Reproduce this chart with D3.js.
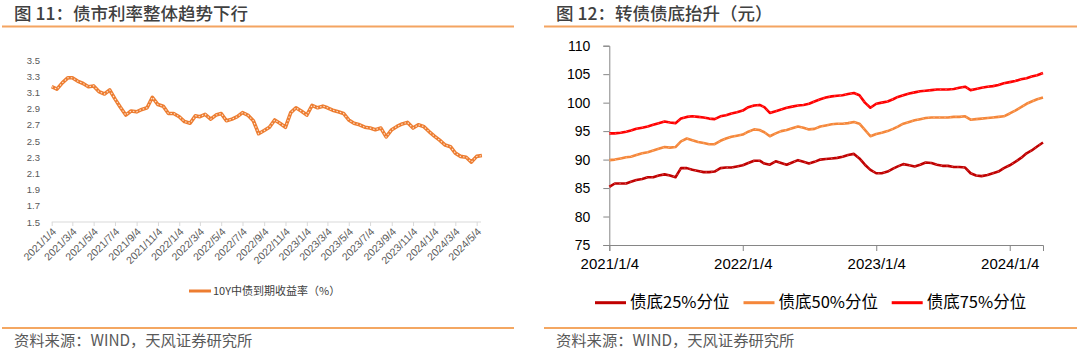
<!DOCTYPE html>
<html>
<head>
<meta charset="utf-8">
<script src="https://cdn.jsdelivr.net/npm/d3@7"></script>
<style>
  body { margin: 0; background: #fff; }
  svg { display: block; }
  text { font-family: "Noto Sans CJK SC", "Liberation Sans", sans-serif; }
</style>
</head>
<body>
<svg id="chart" width="1080" height="353"></svg>
<script>
// half-month sample dates (4th and 19th of each month)
const dates = [
  "2021-01-04","2021-01-19","2021-02-04","2021-02-19","2021-03-04","2021-03-19","2021-04-04","2021-04-19",
  "2021-05-04","2021-05-19","2021-06-04","2021-06-19","2021-07-04","2021-07-19","2021-08-04","2021-08-19",
  "2021-09-04","2021-09-19","2021-10-04","2021-10-19","2021-11-04","2021-11-19","2021-12-04","2021-12-19",
  "2022-01-04","2022-01-19","2022-02-04","2022-02-19","2022-03-04","2022-03-19","2022-04-04","2022-04-19",
  "2022-05-04","2022-05-19","2022-06-04","2022-06-19","2022-07-04","2022-07-19","2022-08-04","2022-08-19",
  "2022-09-04","2022-09-19","2022-10-04","2022-10-19","2022-11-04","2022-11-19","2022-12-04","2022-12-19",
  "2023-01-04","2023-01-19","2023-02-04","2023-02-19","2023-03-04","2023-03-19","2023-04-04","2023-04-19",
  "2023-05-04","2023-05-19","2023-06-04","2023-06-19","2023-07-04","2023-07-19","2023-08-04","2023-08-19",
  "2023-09-04","2023-09-19","2023-10-04","2023-10-19","2023-11-04","2023-11-19","2023-12-04","2023-12-19",
  "2024-01-04","2024-01-19","2024-02-04","2024-02-19","2024-03-04","2024-03-19","2024-04-04","2024-04-19",
  "2024-05-04","2024-05-19"
];

// 图11: 10Y中债到期收益率 (%)
const yield10y = [
  3.17,3.14,3.22,3.28,3.28,3.24,3.21,3.17,3.18,3.11,3.08,3.13,3.02,2.92,2.82,2.87,
  2.86,2.89,2.91,3.04,2.95,2.93,2.84,2.84,
  2.80,2.74,2.72,2.81,2.80,2.83,2.77,2.82,2.84,2.75,2.77,2.80,2.85,2.82,2.75,2.59,
  2.63,2.67,2.76,2.72,2.67,2.85,2.91,2.87,
  2.82,2.94,2.91,2.93,2.91,2.88,2.86,2.84,2.76,2.72,2.70,2.67,2.66,2.64,2.66,2.55,
  2.64,2.68,2.71,2.73,2.66,2.70,2.68,2.62,
  2.56,2.51,2.45,2.43,2.35,2.31,2.30,2.24,2.31,2.32
];

// 图12: 转债债底 (元), ends 2024-04-04
const floor25 = [
  85.2,85.8,85.8,85.8,86.1,86.4,86.6,86.9,86.9,87.2,87.4,87.2,86.9,88.5,88.5,88.2,
  88.0,87.8,87.8,87.9,88.5,88.6,88.6,88.8,
  89.0,89.4,89.8,89.8,89.3,89.1,89.7,89.4,89.1,89.5,89.9,89.6,89.3,89.6,90.0,90.1,
  90.2,90.3,90.5,90.8,91.0,90.2,89.1,88.2,
  87.6,87.6,87.9,88.4,88.8,89.2,89.0,88.8,89.1,89.5,89.4,89.1,88.9,88.9,88.7,88.7,
  88.6,87.6,87.2,87.1,87.3,87.6,87.9,88.5,
  89.0,89.6,90.3,91.1,91.6,92.3,93.0
];
const floor50 = [
  89.9,90.0,90.2,90.4,90.5,90.8,91.1,91.3,91.6,91.9,92.2,92.1,92.2,93.2,93.7,93.4,
  93.1,92.9,92.7,92.7,93.3,93.7,94.0,94.2,
  94.4,94.9,95.3,95.2,94.8,94.1,94.6,95.0,95.2,95.5,95.8,95.6,95.3,95.4,95.8,96.0,
  96.2,96.3,96.3,96.4,96.6,96.3,95.2,94.1,
  94.5,94.7,95.0,95.4,95.8,96.3,96.6,96.9,97.1,97.3,97.4,97.4,97.4,97.4,97.5,97.5,
  97.6,97.0,97.1,97.2,97.3,97.4,97.5,97.6,
  98.1,98.6,99.2,99.8,100.2,100.6,100.9
];
const floor75 = [
  94.6,94.6,94.7,94.9,95.1,95.4,95.6,95.8,96.1,96.4,96.7,96.5,96.4,97.2,97.5,97.6,
  97.5,97.4,97.2,97.1,97.6,97.8,98.1,98.3,
  98.6,99.2,99.5,99.6,99.2,98.2,98.5,98.8,99.1,99.3,99.5,99.6,99.8,100.2,100.6,100.9,
  101.1,101.2,101.3,101.5,101.7,101.3,100.0,99.1,
  99.8,100.0,100.2,100.6,101.0,101.3,101.6,101.8,102.0,102.1,102.2,102.3,102.3,102.3,102.4,102.6,
  102.8,102.2,102.4,102.6,102.8,102.9,103.1,103.4,
  103.6,103.8,104.1,104.3,104.6,104.8,105.2
];

const leftTicks = [
  "2021-01-04","2021-03-04","2021-05-04","2021-07-04","2021-09-04","2021-11-04",
  "2022-01-04","2022-03-04","2022-05-04","2022-07-04","2022-09-04","2022-11-04",
  "2023-01-04","2023-03-04","2023-05-04","2023-07-04","2023-09-04","2023-11-04",
  "2024-01-04","2024-03-04","2024-05-04"
];
const rightTicks = ["2021-01-04","2022-01-04","2023-01-04","2024-01-04"];

const titles = ["图 11：债市利率整体趋势下行", "图 12：转债债底抬升（元）"];
const source = "资料来源：WIND，天风证券研究所";
const legendLeft = "10Y中债到期收益率（%）";
const seriesNames = ["债底25%分位", "债底50%分位", "债底75%分位"];
const seriesColors = ["#C00000", "#F5873A", "#FF0000"];

const parse = d3.timeParse("%Y-%m-%d");
const fmt = d3.timeFormat("%Y/%-m/%-d");
const svg = d3.select("#chart");

/* header & footer for both panels */
const panels = [{ x0: 2, x1: 514, tx: 14 }, { x0: 544, x1: 1077, tx: 556 }];
panels.forEach((p, i) => {
  svg.append("text").attr("x", p.tx).attr("y", 19.5)
    .style("font-size", "17.5px").style("font-weight", 500).style("fill", "#404040")
    .text(titles[i]);
  svg.append("line").attr("x1", p.x0).attr("x2", p.x1).attr("y1", 26.5).attr("y2", 26.5)
    .style("stroke", "#F4A461").style("stroke-width", 2);
  svg.append("line").attr("x1", p.x0).attr("x2", p.x1).attr("y1", 328).attr("y2", 328)
    .style("stroke", "#F08A2E").style("stroke-width", 1.5);
  svg.append("text").attr("x", p.tx).attr("y", 346)
    .style("font-size", "15.3px").style("fill", "#595959")
    .text(source);
});

/* ---------- left chart ---------- */
const xL = d3.scaleTime()
  .domain([parse("2021-01-04"), parse("2024-05-19")])
  .range([51.7, 481.9]);
const yL = d3.scaleLinear().domain([1.5, 3.5]).range([222, 60]);

const gL = svg.append("g");
const xAxisL = d3.axisBottom(xL)
  .tickValues(leftTicks.map(parse))
  .tickFormat(fmt)
  .tickSize(4);
gL.append("g").attr("transform", "translate(0,222)").call(xAxisL)
  .call(g => g.select(".domain").attr("d", "M51.7,0H481").style("stroke", "#D9D9D9"))
  .call(g => g.selectAll(".tick line").style("stroke", "#D9D9D9"))
  .call(g => g.selectAll(".tick text")
    .attr("transform", "translate(2,2) rotate(-45)")
    .attr("x", -4).attr("y", 4).attr("dy", "0.35em")
    .style("text-anchor", "end")
    .style("font-family", "'Liberation Sans', sans-serif")
    .style("font-size", "10.5px").style("fill", "#595959"));

const yAxisL = d3.axisLeft(yL).tickValues(d3.range(1.5, 3.51, 0.2)).tickFormat(d3.format(".1f")).tickSize(0);
gL.append("g").attr("transform", "translate(43,0)").call(yAxisL)
  .call(g => g.select(".domain").remove())
  .call(g => g.selectAll(".tick text")
    .style("font-family", "'Liberation Sans', sans-serif")
    .style("font-size", "9.5px").style("fill", "#595959"));

const lineL = d3.line()
  .x((d, i) => xL(parse(dates[i])))
  .y(d => yL(d));
gL.append("path").datum(yield10y).attr("d", lineL)
  .style("fill", "none").style("stroke", "#ED7D31").style("stroke-width", 3.6)
  .style("stroke-linejoin", "round");
gL.append("path").datum(yield10y).attr("d", lineL)
  .style("fill", "none").style("stroke", "#FCE3D0").style("stroke-width", 1.1)
  .style("stroke-dasharray", "1.5,2");

// legend
gL.append("line").attr("x1", 189).attr("x2", 211).attr("y1", 291).attr("y2", 291)
  .style("stroke", "#ED7D31").style("stroke-width", 3);
gL.append("text").attr("x", 213).attr("y", 291).attr("dy", "0.35em")
  .style("font-size", "11px").style("fill", "#404040")
  .text(legendLeft);

/* ---------- right chart ---------- */
const xR = d3.scaleTime()
  .domain([parse("2021-01-04"), parse("2024-04-04")])
  .range([609.3, 1043]);
const yR = d3.scaleLinear().domain([75, 110]).range([245, 45.7]);

const gR = svg.append("g");
gR.append("g").attr("transform", "translate(609.3,0)")
  .call(d3.axisLeft(yR).tickValues(d3.range(75, 111, 5)).tickSizeOuter(0).tickSize(6))
  .call(g => g.select(".domain").style("stroke", "#868686"))
  .call(g => g.selectAll(".tick line").style("stroke", "#868686"))
  .call(g => g.selectAll(".tick text").attr("x", -19)
    .style("font-family", "'Liberation Sans', sans-serif")
    .style("font-size", "14px").style("fill", "#000"));

gR.append("g").attr("transform", "translate(0,245)")
  .call(d3.axisBottom(xR).tickValues(rightTicks.map(parse)).tickFormat(fmt).tickSizeOuter(0).tickSize(6))
  .call(g => g.select(".domain").style("stroke", "#868686"))
  .call(g => g.selectAll(".tick line").style("stroke", "#868686"))
  .call(g => g.selectAll(".tick text").attr("y", 13)
    .style("font-family", "'Liberation Sans', sans-serif")
    .style("font-size", "15px").style("fill", "#000"));

const series = [floor25, floor50, floor75];
const lineR = d3.line()
  .x((d, i) => xR(parse(dates[i])))
  .y(d => yR(d));
series.forEach((s, k) => {
  gR.append("path").datum(s).attr("d", lineR)
    .style("fill", "none").style("stroke", seriesColors[k]).style("stroke-width", 2.6)
    .style("stroke-linejoin", "round");
  gR.append("path").datum(s).attr("d", lineR)
    .style("fill", "none").style("stroke", "#fff").style("stroke-opacity", 0.35)
    .style("stroke-width", 0.9).style("stroke-dasharray", "1.5,4");
});

// legend
const legX = [595, 743.5, 891.7];
seriesNames.forEach((name, k) => {
  gR.append("line").attr("x1", legX[k]).attr("x2", legX[k] + 31).attr("y1", 302.7).attr("y2", 302.7)
    .style("stroke", seriesColors[k]).style("stroke-width", 3);
  gR.append("text").attr("x", legX[k] + 35).attr("y", 302.7).attr("dy", "0.35em")
    .style("font-size", "16.5px").style("fill", "#000")
    .text(name);
});
</script>
</body>
</html>
